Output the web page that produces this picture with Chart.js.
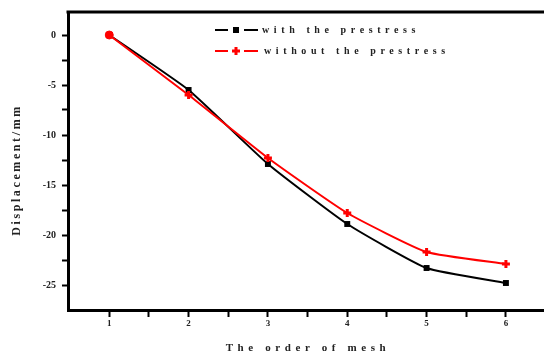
<!DOCTYPE html>
<html>
<head>
<meta charset="utf-8">
<script src="https://cdn.jsdelivr.net/npm/chart.js@4.4.1/dist/chart.umd.min.js"></script>
<style>
html, body { margin: 0; padding: 0; background: #fff; }
#wrap { width: 544px; height: 355px; }
</style>
</head>
<body>
<div id="wrap"><canvas id="meshChart"></canvas></div>
<script>
// Displacement against mesh order, with and without prestress
var meshOrder = [1, 2, 3, 4, 5, 6];
var withPrestress = [0, -5.5, -12.9, -18.9, -23.3, -24.8];
var withoutPrestress = [0, -6.0, -12.3, -17.8, -21.7, -22.9];
var seriesNames = ["with the prestress", "without the prestress"];
var xMajorTicks = [1, 2, 3, 4, 5, 6];
var yMajorTicks = [0, -5, -10, -15, -20, -25];
var xTitle = "The order of mesh";
var yTitle = "Displacement/mm";

var textFont = 'bold 10px "Liberation Serif"';

function toPoints(ys) {
    return meshOrder.map(function (x, i) { return { x: x, y: ys[i] }; });
}

// majors plus a minor tick half way between each pair
function withMinor(majors) {
    var out = [];
    majors.forEach(function (v, i) {
        out.push({ value: v, major: true });
        if (i < majors.length - 1) out.push({ value: (v + majors[i + 1]) / 2, major: false });
    });
    return out;
}

// legend, top frame line and letter-spaced axis titles
var spacedText = {
    id: 'spacedText',
    afterDraw: function (chart) {
        var ctx = chart.ctx, area = chart.chartArea;
        ctx.save();
        ctx.strokeStyle = '#000';
        ctx.lineWidth = 3;
        ctx.beginPath();
        ctx.moveTo(area.left - 1.5, area.top);
        ctx.lineTo(chart.width, area.top);
        ctx.stroke();

        ctx.font = textFont;
        ctx.letterSpacing = '4.6px';
        ctx.fillStyle = '#222';
        ctx.textBaseline = 'middle';

        var lx = area.left + 147;
        chart.data.datasets.forEach(function (ds, i) {
            var y = area.top + 18 + i * 21;
            ctx.strokeStyle = ds.borderColor;
            ctx.lineWidth = 2;
            ctx.beginPath();
            ctx.moveTo(lx, y); ctx.lineTo(lx + 13, y);
            ctx.moveTo(lx + 29, y); ctx.lineTo(lx + 43, y);
            ctx.stroke();
            if (i === 0) {
                ctx.fillStyle = ds.borderColor;
                ctx.fillRect(lx + 18, y - 3, 6, 6);
            } else {
                ctx.lineWidth = 3;
                ctx.beginPath();
                ctx.moveTo(lx + 17, y); ctx.lineTo(lx + 25, y);
                ctx.moveTo(lx + 21, y - 4); ctx.lineTo(lx + 21, y + 4);
                ctx.stroke();
            }
            ctx.fillStyle = '#222';
            ctx.textAlign = 'left';
            ctx.fillText(seriesNames[i], lx + 47 + i * 2, y);
        });

        ctx.textAlign = 'center';
        ctx.font = 'bold 11px "Liberation Serif"';
        ctx.fillText(xTitle, (area.left + chart.width) / 2 + 2, 348);

        ctx.letterSpacing = '2.6px';
        ctx.font = 'bold 12px "Liberation Serif"';
        ctx.translate(17, area.top + 158);
        ctx.rotate(-Math.PI / 2);
        ctx.fillText(yTitle, 0, 0);
        ctx.restore();
    }
};

new Chart("meshChart", {
    type: "line",
    data: {
        datasets: [{
            label: seriesNames[0],
            data: toPoints(withPrestress),
            borderColor: "#000000",
            backgroundColor: "#000000",
            borderWidth: 2,
            tension: 0.15,
            pointStyle: "rect",
            pointRadius: 4.2,
            pointBorderWidth: 0,
            order: 2
        }, {
            label: seriesNames[1],
            data: toPoints(withoutPrestress),
            borderColor: "#ff0000",
            backgroundColor: "#ff0000",
            borderWidth: 2,
            tension: 0.15,
            pointStyle: ["circle", "cross", "cross", "cross", "cross", "cross"],
            pointRadius: 4,
            pointBorderWidth: [1, 3, 3, 3, 3, 3],
            order: 1
        }]
    },
    options: {
        responsive: true,
        maintainAspectRatio: false,
        animation: false,
        layout: { autoPadding: false, padding: { top: 12, left: 0, right: 0, bottom: 0 } },
        plugins: {
            legend: { display: false },
            title: { display: false },
            tooltip: { enabled: false }
        },
        scales: {
            x: {
                type: "linear",
                min: 0.48,
                max: 6.48,
                afterFit: function (s) { s.height = 45; },
                afterBuildTicks: function (s) { s.ticks = withMinor(xMajorTicks); },
                border: { color: "#000", width: 3 },
                grid: { drawOnChartArea: false, tickLength: 7, tickWidth: 2, tickColor: "#000" },
                ticks: {
                    padding: 1,
                    color: "#222",
                    maxRotation: 0,
                    autoSkip: false,
                    font: { family: "Liberation Serif", size: 9, weight: "bold" },
                    callback: function (v) { return xMajorTicks.indexOf(v) >= 0 ? String(v) : ""; }
                }
            },
            y: {
                min: -27.5,
                max: 2.3,
                afterFit: function (s) { s.width = 68; },
                afterBuildTicks: function (s) { s.ticks = withMinor(yMajorTicks); },
                border: { color: "#000", width: 3 },
                grid: { drawOnChartArea: false, tickLength: 6, tickWidth: 2, tickColor: "#000" },
                ticks: {
                    padding: 6,
                    color: "#222",
                    autoSkip: false,
                    font: { family: "Liberation Serif", size: 10, weight: "bold" },
                    callback: function (v) { return yMajorTicks.indexOf(v) >= 0 ? String(v) : ""; }
                }
            }
        }
    },
    plugins: [spacedText]
});
</script>
</body>
</html>
